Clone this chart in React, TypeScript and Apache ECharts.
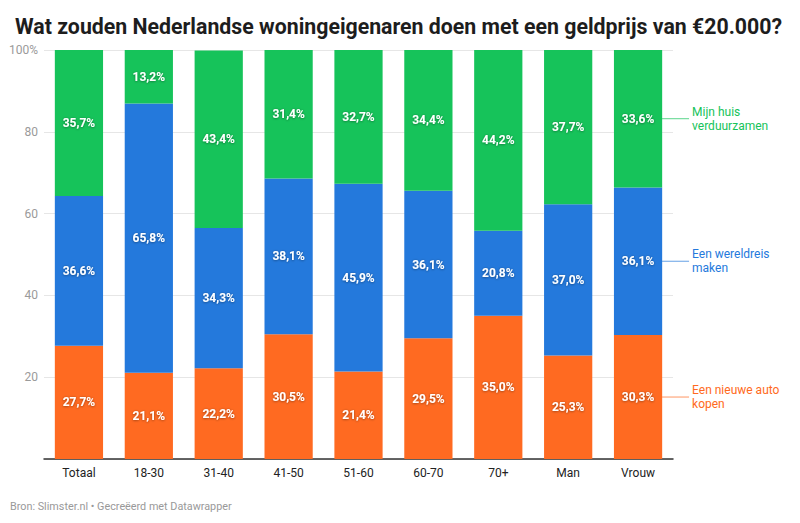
import React, { useEffect, useRef } from "react";
import * as echarts from "echarts";

const categories = ["Totaal", "18-30", "31-40", "41-50", "51-60", "60-70", "70+", "Man", "Vrouw"];
const autoKopen = [27.7, 21.1, 22.2, 30.5, 21.4, 29.5, 35.0, 25.3, 30.3];
const wereldreis = [36.6, 65.8, 34.3, 38.1, 45.9, 36.1, 20.8, 37.0, 36.1];
const verduurzamen = [35.7, 13.2, 43.4, 31.4, 32.7, 34.4, 44.2, 37.7, 33.6];
const seriesNames = ["Een nieuwe auto\nkopen", "Een wereldreis\nmaken", "Mijn huis\nverduurzamen"];
const colors = ["#ff6a21", "#2479dc", "#16c35a"];
const title = "Wat zouden Nederlandse woningeigenaren doen met een geldprijs van €20.000?";
const footer = "Bron: Slimster.nl • Gecreëerd met Datawrapper";

const FONT = "Roboto";

export default function App() {
  const ref = useRef<HTMLDivElement>(null);
  useEffect(() => {
    if (!ref.current) return;
    const chart = echarts.init(ref.current, null, { renderer: "svg" });
    const data = [autoKopen, wereldreis, verduurzamen];
    const fmt = (v: number) => v.toFixed(1).replace(".", ",") + "%";
    const footerEl = {
      type: "text",
      left: 10,
      top: 501,
      style: { text: footer, fill: "#999", fontSize: 10.8, fontFamily: FONT },
    };
    chart.setOption({
      animation: false,
      textStyle: { fontFamily: FONT },
      title: {
        text: title,
        left: 10,
        top: 11,
        textStyle: { fontFamily: FONT, fontSize: 21.3, fontWeight: "bold", color: "#1d1d1d" },
      },
      grid: { left: 44, right: 127, top: 50, bottom: 64, containLabel: false },
      xAxis: {
        type: "category",
        data: categories,
        axisLine: { lineStyle: { color: "#333", width: 1.5 } },
        axisTick: { show: false },
        axisLabel: { color: "#222", fontSize: 12, margin: 8, fontFamily: FONT },
      },
      yAxis: {
        type: "value",
        min: 0,
        max: 100,
        interval: 20,
        axisLine: { show: false },
        axisTick: { show: false },
        splitLine: { lineStyle: { color: "#e6e6e6" } },
        axisLabel: {
          color: "#9a9a9a",
          fontSize: 12,
          margin: 6,
          fontFamily: FONT,
          formatter: (v: number) => (v === 0 ? "" : v === 100 ? "100%" : String(v)),
        },
      },
      series: data.map((d, i) => ({
        type: "bar",
        name: seriesNames[i],
        stack: "total",
        data: d,
        barCategoryGap: "31%",
        itemStyle: { color: colors[i] },
        label: {
          show: true,
          position: "inside",
          color: "#fff",
          fontWeight: "bold",
          fontSize: 12,
          fontFamily: FONT,
          textShadowColor: "rgba(0,0,0,0.45)",
          textShadowBlur: 2,
          textShadowOffsetY: 0.5,
          formatter: (p: any) => fmt(p.value),
        },
      })),
      graphic: [footerEl],
    });

    const last = categories.length - 1;
    const lastCat = categories[last];
    let base = 0;
    const legendEls: any[] = [];
    data.forEach((d, i) => {
      const mid = base + d[last] / 2;
      base += d[last];
      const p = chart.convertToPixel({ gridIndex: 0 }, [lastCat, mid]) as number[];
      const barCenter = chart.convertToPixel({ gridIndex: 0 }, [lastCat, 0]) as number[];
      const startX = barCenter[0] + 24;
      legendEls.push({
        type: "line",
        shape: { x1: startX, y1: p[1], x2: startX + 27, y2: p[1] },
        style: { stroke: colors[i], lineWidth: 1, opacity: 0.7 },
      });
      legendEls.push({
        type: "text",
        x: startX + 30,
        y: p[1],
        style: {
          text: seriesNames[i],
          fill: colors[i],
          fontSize: 12,
          fontFamily: FONT,
          lineHeight: 14,
          verticalAlign: "middle",
          align: "left",
        },
      });
    });
    chart.setOption({ graphic: [footerEl, ...legendEls] });
    return () => chart.dispose();
  }, []);
  return <div ref={ref} style={{ width: 800, height: 523, position: "absolute", left: 0, top: 0 }} />;
}
